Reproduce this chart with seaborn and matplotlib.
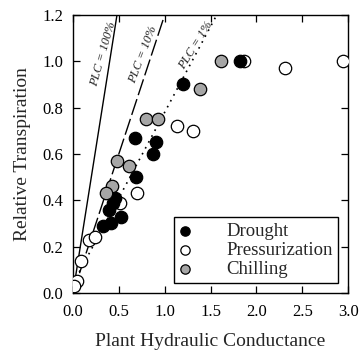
import numpy as np
import pandas as pd
import matplotlib
matplotlib.use("Agg")
import matplotlib.pyplot as plt
import seaborn as sns

# ---- data ----
drought_x = [1.82, 1.20, 0.68, 0.91, 0.87, 0.69, 0.46, 0.44, 0.39, 0.52, 0.42, 0.33]
drought_y = [1.00, 0.90, 0.67, 0.65, 0.60, 0.50, 0.41, 0.39, 0.36, 0.33, 0.30, 0.29]
press_x = [2.94, 2.31, 1.87, 1.13, 1.31, 0.70, 0.51, 0.17, 0.24, 0.09, 0.04, 0.01]
press_y = [1.00, 0.97, 1.00, 0.72, 0.70, 0.43, 0.39, 0.23, 0.24, 0.14, 0.05, 0.03]
chill_x = [1.61, 1.38, 0.80, 0.93, 0.48, 0.61, 0.43, 0.36]
chill_y = [1.00, 0.88, 0.75, 0.75, 0.57, 0.55, 0.46, 0.43]

plc_labels = ["PLC = 100%", "PLC = 10%", "PLC = 1%"]
plc_slopes = [2.5, 1.2, 0.74]
plc_intercepts = [0.0, 0.0, 0.04]

x_ticks = [0.0, 0.5, 1.0, 1.5, 2.0, 2.5, 3.0]
y_ticks = [0.0, 0.2, 0.4, 0.6, 0.8, 1.0, 1.2]

sns.set_theme(style="ticks")
plt.rcParams["font.family"] = ["Liberation Serif", "DejaVu Serif"]

fig = plt.figure(figsize=(3.63, 3.56), dpi=100)
ax = fig.add_axes([0.201, 0.177, 0.758, 0.781])

# model lines
styles = [dict(ls="-", lw=1.0), dict(ls=(0, (12, 3)), lw=1.0), dict(ls=(0, (1, 3)), lw=1.2)]
for s, b, st in zip(plc_slopes, plc_intercepts, styles):
    xs = np.array([0.0, (1.2 - b) / s])
    ys = b + s * xs
    ax.plot(xs, ys, color="black", **st, zorder=1)

df = pd.concat([
    pd.DataFrame({"x": press_x, "y": press_y, "g": "Pressurization"}),
    pd.DataFrame({"x": drought_x, "y": drought_y, "g": "Drought"}),
    pd.DataFrame({"x": chill_x, "y": chill_y, "g": "Chilling"}),
])
colors = {"Pressurization": "white", "Drought": "black", "Chilling": "#a6a6a6"}
for g in ["Pressurization", "Drought", "Chilling"]:
    sub = df[df.g == g]
    sns.scatterplot(data=sub, x="x", y="y", ax=ax, color=colors[g], edgecolor="black",
                    linewidth=0.9, s=80, label=g, zorder=3)

# PLC text labels
ax.text(0.33, 1.03, plc_labels[0], rotation=74, fontsize=9, style="italic",
        ha="center", va="center", color="#222222")
ax.text(0.77, 1.03, plc_labels[1], rotation=69, fontsize=9, style="italic",
        ha="center", va="center", color="#222222")
ax.text(1.34, 1.07, plc_labels[2], rotation=58, fontsize=9, style="italic",
        ha="center", va="center", color="#222222")

ax.set_xlim(0, 3.0)
ax.set_ylim(0, 1.2)
ax.set_xticks(x_ticks)
ax.set_yticks(y_ticks)
ax.set_xticklabels([f"{v:.1f}" for v in x_ticks])
ax.set_yticklabels([f"{v:.1f}" for v in y_ticks])
ax.tick_params(direction="in", top=True, right=True, length=5, width=0.9,
               labelsize=12, colors="black")
ax.tick_params(axis="x", pad=8)
ax.tick_params(axis="y", pad=7)
for sp in ax.spines.values():
    sp.set_visible(True)
    sp.set_linewidth(1.0)
    sp.set_color("black")
ax.set_xlabel("Plant Hydraulic Conductance", fontsize=14, labelpad=9)
ax.set_ylabel("Relative Transpiration", fontsize=14, labelpad=8)

handles, labels = ax.get_legend_handles_labels()
order = [labels.index(n) for n in ["Drought", "Pressurization", "Chilling"]]
leg = ax.legend([handles[i] for i in order], [labels[i] for i in order],
                loc="lower right", bbox_to_anchor=(0.965, 0.035), fontsize=13.5,
                frameon=True, fancybox=False, edgecolor="black", framealpha=1,
                handlelength=0.6, handletextpad=1.9, borderpad=0.3,
                labelspacing=0.1, markerscale=0.75, borderaxespad=0)
leg.get_frame().set_linewidth(1.0)

fig.savefig("out.png", dpi=100)
